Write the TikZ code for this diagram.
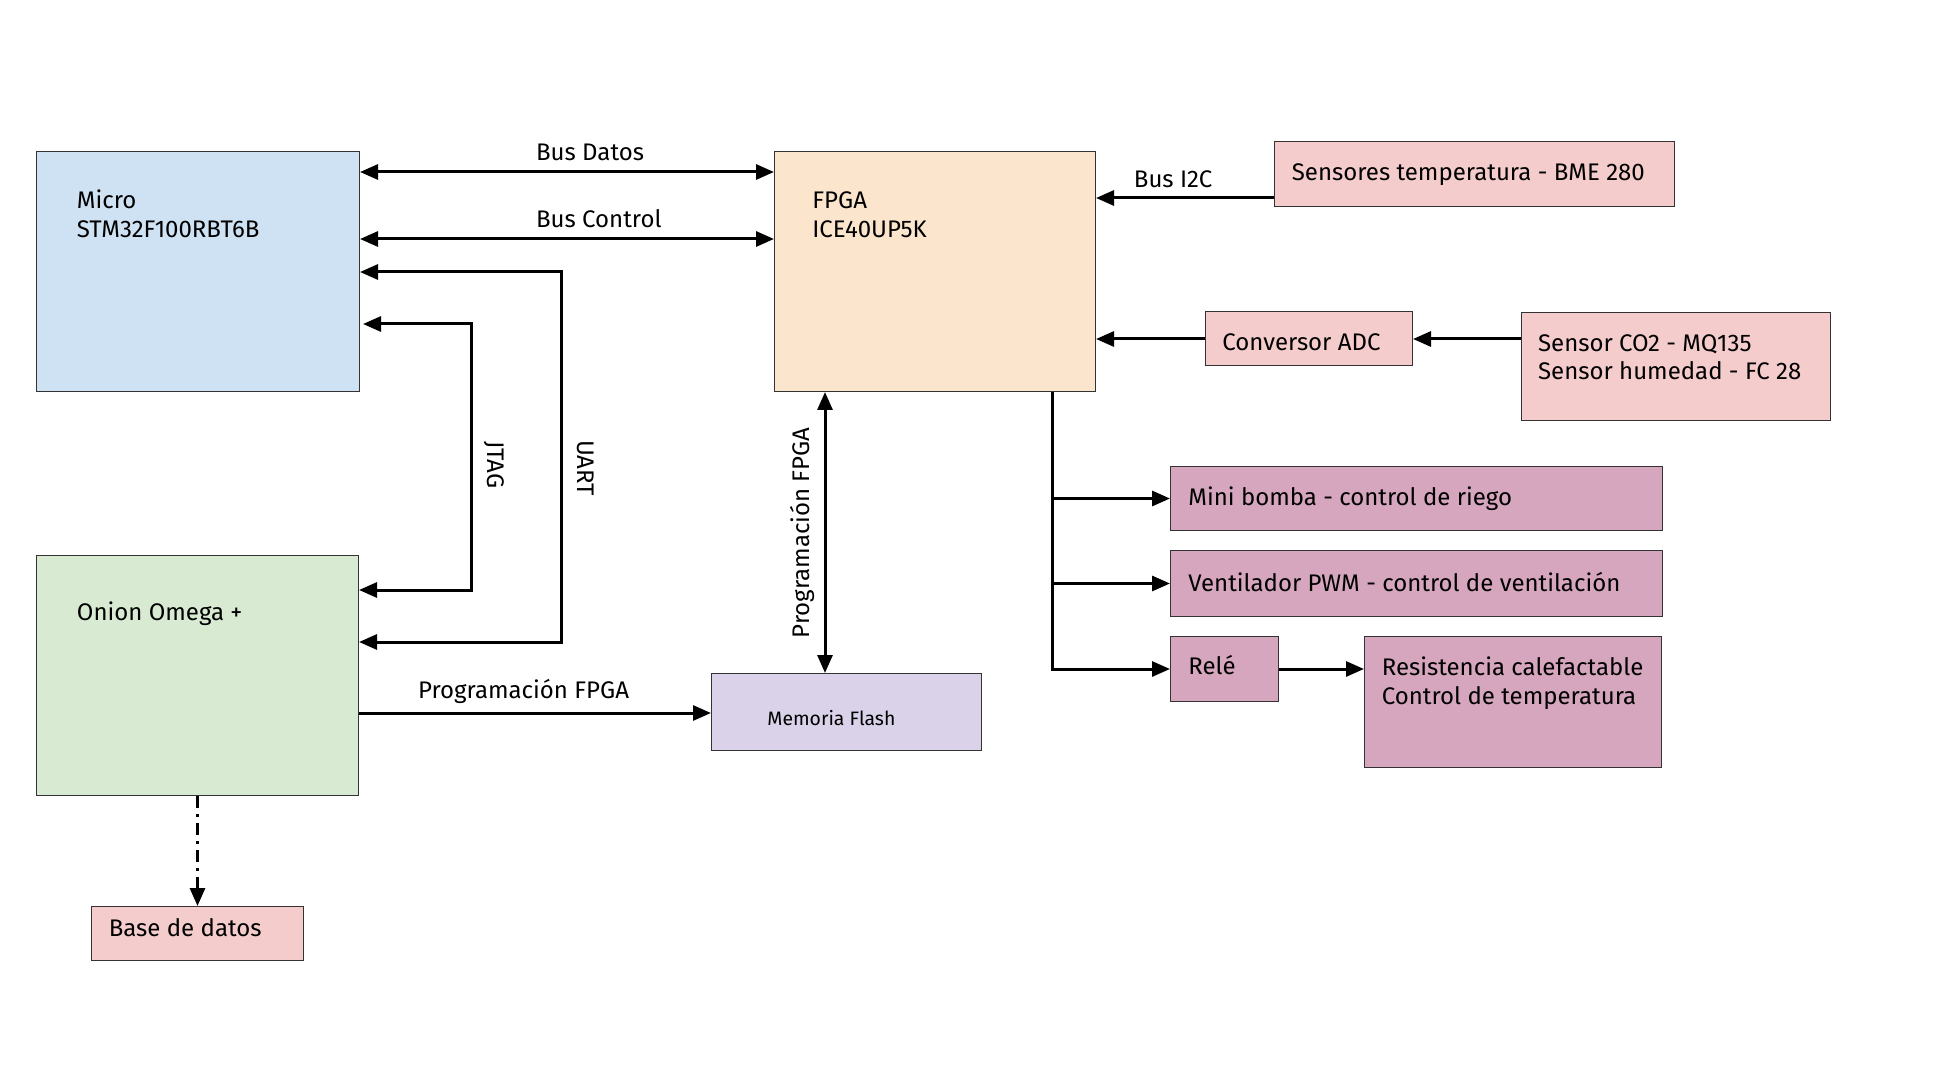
\documentclass[tikz,border=0pt]{standalone}
\usepackage{fontspec}
\setmainfont{Fira Sans}
\usetikzlibrary{arrows.meta,calc}
\definecolor{cblue}{HTML}{CFE2F3}
\definecolor{corange}{HTML}{FCE5CD}
\definecolor{cgreen}{HTML}{D9EAD3}
\definecolor{cpurple}{HTML}{D9D2E9}
\definecolor{cpink}{HTML}{F4CCCC}
\definecolor{cmag}{HTML}{D5A6BD}
\begin{document}
\begin{tikzpicture}[x=0.5pt,y=-0.5pt,
  box/.style={draw=black!80, line width=0.5pt, inner sep=0pt, anchor=north west},
  txt/.style={inner sep=0pt, font=\fontsize{12}{14.5}\selectfont, align=left},
  smalltxt/.style={inner sep=0pt, font=\fontsize{9.7}{12}\selectfont},
  tip/.tip={Triangle[length=9pt,width=7.5pt]},
  conn/.style={line width=1.5pt, -tip},
  dconn/.style={line width=1.5pt, tip-tip},
  plain/.style={line width=1.5pt}]
\useasboundingbox[fill=white] (0,0) rectangle (1960,1080);

% boxes
\node[box, fill=cblue,   minimum width=161.5pt, minimum height=120pt] (micro) at (36,151) {};
\node[box, fill=corange, minimum width=160.5pt, minimum height=120pt] (fpga) at (774,151) {};
\node[box, fill=cgreen,  minimum width=161pt,   minimum height=120pt] (onion) at (36,555) {};
\node[box, fill=cpurple, minimum width=135pt,   minimum height=38.5pt] (flash) at (711,673) {};
\node[box, fill=cpink,   minimum width=106pt,   minimum height=27pt] (db) at (91,906) {};
\node[box, fill=cpink,   minimum width=200pt,   minimum height=32.5pt] (bme) at (1274,141) {};
\node[box, fill=cpink,   minimum width=103.5pt, minimum height=27pt] (adc) at (1205,311) {};
\node[box, fill=cpink,   minimum width=154.5pt, minimum height=54pt] (co2) at (1521,312) {};
\node[box, fill=cmag,    minimum width=246pt,   minimum height=32pt] (pump) at (1170,466) {};
\node[box, fill=cmag,    minimum width=246pt,   minimum height=33pt] (fan) at (1170,550) {};
\node[box, fill=cmag,    minimum width=54pt,    minimum height=32.5pt] (relay) at (1170,636) {};
\node[box, fill=cmag,    minimum width=148.5pt, minimum height=65.5pt] (heater) at (1364,636) {};

% box texts
\node[txt, anchor=base west] (microT1) at (76.5,208.7) {Micro};
\node[txt, anchor=base west] (microT2) at (76.5,237.7) {STM32F100RBT6B};
\node[txt, anchor=base west] (fpgaT1) at (812,208.7) {FPGA};
\node[txt, anchor=base west] (fpgaT2) at (812,237.7) {ICE40UP5K};
\node[txt, anchor=base west] (onionT) at (76.5,620) {Onion Omega +};
\node[smalltxt, anchor=base west] (flashT) at (767,725) {Memoria Flash};
\node[txt, anchor=base west] (dbT) at (108.4,936.7) {Base de datos};
\node[txt, anchor=base west] (bmeT) at (1291.5,181) {Sensores temperatura - BME 280};
\node[txt, anchor=base west] (adcT) at (1222,351) {Conversor ADC};
\node[txt, anchor=base west] (co2T1) at (1537.7,352) {Sensor CO2 - MQ135};
\node[txt, anchor=base west] (co2T2) at (1537.7,380) {Sensor humedad - FC 28};
\node[txt, anchor=base west] (pumpT) at (1188,505) {Mini bomba - control de riego};
\node[txt, anchor=base west] (fanT) at (1188,591) {Ventilador PWM - control de ventilación};
\node[txt, anchor=base west] (relayT) at (1188,674.5) {Relé};
\node[txt, anchor=base west] (heaterT1) at (1381.5,675) {Resistencia calefactable};
\node[txt, anchor=base west] (heaterT2) at (1381.5,704) {Control de temperatura};

% Micro <-> FPGA buses
\draw[dconn] ($(micro.north east)+(0,21)$) -- ($(fpga.north west)+(0,21)$);
\draw[dconn] ($(micro.north east)+(0,88)$) -- ($(fpga.north west)+(0,88)$);
\node[txt, anchor=base west] (busD) at (535.7,161) {Bus Datos};
\node[txt, anchor=base west] (busC) at (535.7,227.7) {Bus Control};

% UART and JTAG
\coordinate (uartT) at (561,272);
\coordinate (uartB) at (561,642);
\draw[dconn] (uartT -| micro.east) -- (uartT) -- (uartB) -- (uartB -| onion.east);
\coordinate (jtagT) at (471,324);
\coordinate (jtagB) at (471,590);
\draw[dconn] ($(jtagT -| micro.east)+(3,0)$) -- (jtagT) -- (jtagB) -- (jtagB -| onion.east);
\node[txt, rotate=-90] (jtagL) at (494,465) {JTAG};
\node[txt, rotate=-90] (uartL) at (586,468) {UART};

% Onion -> Flash
\coordinate (pf) at (0,713);
\draw[conn] (onion.east |- pf) -- (flash.west |- pf);
\node[txt, anchor=base west] (pfL) at (417.7,698) {Programación FPGA};

% FPGA <-> Flash
\coordinate (pv) at (825,0);
\draw[dconn] (pv |- fpga.south) -- (pv |- flash.north);
\node[txt, rotate=90] (pvL) at (802,533) {Programación FPGA};

% Onion -> DB
\draw[line width=1.5pt, dash pattern=on 6pt off 3pt on 1.5pt off 3pt, -tip] (onion.south) -- (db.north);

% sensors
\coordinate (i2c) at (0,198);
\draw[conn] (bme.west |- i2c) -- (fpga.east |- i2c);
\node[txt, anchor=base west] (i2cL) at (1133.5,187.5) {Bus I2C};
\coordinate (adcY) at (0,339);
\draw[conn] (adc.west |- adcY) -- (fpga.east |- adcY);
\draw[conn] (co2.west |- adcY) -- (adc.east |- adcY);

% actuators
\coordinate (bus) at (1052,0);
\draw[conn] (bus |- fpga.south) |- (relay.west);
\draw[conn] (bus |- pump.west) -- (pump.west);
\draw[conn] (bus |- fan.west) -- (fan.west);
\draw[conn] (relay.east) -- (relay.east -| heater.west);
\end{tikzpicture}
\end{document}
